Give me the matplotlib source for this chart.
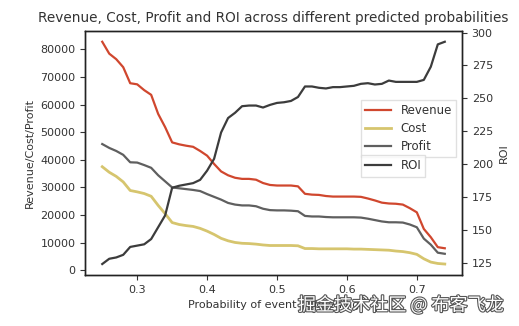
import numpy as np
import matplotlib
matplotlib.use("Agg")
from matplotlib import pyplot as plt
from matplotlib import patheffects as pe

# predicted probability thresholds
prob = np.round(np.arange(0.25, 0.745, 0.01), 2)

revenue = [82700, 78400, 76400, 73500, 67700, 67300, 65200, 63500, 56600, 51800,
           46300, 45600, 45100, 44700, 43200, 41500, 38500, 35800, 34400, 33500,
           33100, 33100, 32800, 31600, 30900, 30700, 30700, 30700, 30400, 27700,
           27400, 27300, 26900, 26700, 26700, 26700, 26700, 26600, 26000, 25300,
           24500, 24200, 24100, 23800, 22500, 21000, 15000, 12000, 8400, 8000]

cost = [37500, 35500, 34000, 32000, 28900, 28400, 27800, 26800, 23500, 20500,
        17300, 16600, 16200, 15900, 15200, 14200, 13000, 11600, 10700, 10100,
        9800, 9700, 9500, 9200, 9000, 9000, 9000, 9000, 8900, 7900,
        7900, 7800, 7800, 7800, 7800, 7800, 7700, 7700, 7600, 7500,
        7400, 7300, 7000, 6800, 6400, 5800, 4200, 3000, 2500, 2300]

profit = [45700, 44300, 43200, 41800, 39100, 39000, 38100, 37100, 34400, 32200,
          30000, 29700, 29400, 29100, 28700, 27600, 26600, 25600, 24400, 23800,
          23500, 23500, 23200, 22300, 21800, 21700, 21700, 21600, 21400, 19700,
          19500, 19500, 19300, 19200, 19200, 19200, 19200, 19100, 18700, 18200,
          17700, 17400, 17400, 17300, 16600, 15600, 11500, 9300, 6400, 6000]

roi = [124, 128, 129, 131, 137, 138, 139, 143, 152, 161,
       182, 183.5, 184.5, 185.5, 188, 195, 204, 224, 235, 239,
       244, 244.5, 244.5, 243, 245, 246.5, 247, 248, 251, 259,
       259, 258, 257.5, 258.5, 258.5, 259, 259.5, 261, 261.5, 260.5,
       261, 263.5, 262.5, 262.5, 262.5, 262.5, 264, 274, 291, 293]

plt.rcParams["font.size"] = 8
plt.rcParams["text.color"] = "#333333"
plt.rcParams["axes.labelcolor"] = "#333333"
plt.rcParams["xtick.color"] = "#333333"
plt.rcParams["ytick.color"] = "#333333"

fig = plt.figure(figsize=(5.19, 3.26), dpi=100)
ax = fig.add_axes([0.164, 0.156, 0.726, 0.750])
for s in ax.spines.values():
    s.set_color("#222222")
    s.set_linewidth(1.0)

l1, = ax.plot(prob, revenue, color="#d0472e", lw=1.6, label="Revenue")
l2, = ax.plot(prob, cost, color="#d6c56e", lw=2.0, label="Cost")
l3, = ax.plot(prob, profit, color="#5f5f5f", lw=1.6, label="Profit")
ax.set_xlabel("Probability of event happening")
ax.set_ylabel("Revenue/Cost/Profit")
ax.set_title("Revenue, Cost, Profit and ROI across different predicted probabilities",
             fontsize=9.8)
ax.set_xticks([0.3, 0.4, 0.5, 0.6, 0.7])

ax2 = ax.twinx()
for s in ax2.spines.values():
    s.set_color("#222222")
    s.set_linewidth(1.0)
l4, = ax2.plot(prob, roi, color="#3c3c3c", lw=1.6, label="ROI")
ax2.set_ylabel("ROI")
ax2.set_yticks([125, 150, 175, 200, 225, 250, 275, 300])

# two legends: one for the money axis, one for the ROI axis
leg_kw = dict(loc="upper left", borderaxespad=0, fancybox=False,
              edgecolor="0.85", handlelength=2.2, fontsize=8.5,
              labelspacing=0.42, borderpad=0.35)
ax.legend(handles=[l1, l2, l3], bbox_to_anchor=(0.732, 0.716), **leg_kw)
ax2.legend(handles=[l4], bbox_to_anchor=(0.732, 0.49), **leg_kw)

fig.text(0.574, 0.064, "掘金技术社区 @ 布客飞龙", fontsize=13,
         family=["Noto Sans CJK SC", "DejaVu Sans"], color="white",
         va="center", ha="left",
         path_effects=[pe.withStroke(linewidth=1.6, foreground="#555555")])

fig.savefig("out.png", dpi=100)
